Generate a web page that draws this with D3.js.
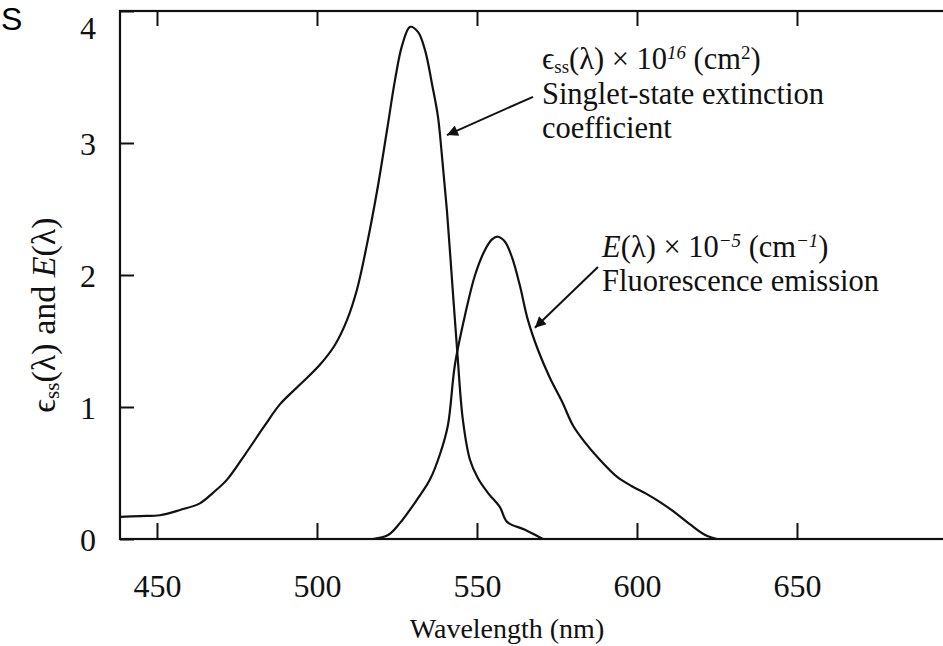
<!DOCTYPE html>
<html>
<head>
<meta charset="utf-8">
<script src="https://cdn.jsdelivr.net/npm/d3@7"></script>
<style>
  html, body { margin: 0; padding: 0; background: #fff; }
  svg { display: block; }
</style>
</head>
<body>
<svg id="chart" width="943" height="646"></svg>
<script>
// ---- data ----
const epsWavelength = [438.4, 444.7, 450.9, 457.2, 463.4, 467.5, 471.9, 477.5, 483.7, 488.4, 494.7, 500.9, 505.6, 509.4, 512.5, 515.6, 518.8, 521.9, 524.4, 526.6, 529.1, 531.6, 533.8, 536.0, 537.8, 539.1, 540.6, 542.2, 543.8, 545.6, 547.8, 550.3, 553.4, 557.2, 559.4, 565.0, 570.6];
const epsValues     = [0.167, 0.174, 0.18, 0.22, 0.27, 0.35, 0.45, 0.64, 0.86, 1.02, 1.17, 1.32, 1.47, 1.66, 1.89, 2.23, 2.64, 3.10, 3.48, 3.74, 3.88, 3.84, 3.70, 3.44, 3.20, 2.89, 2.49, 1.96, 1.43, 0.90, 0.60, 0.46, 0.35, 0.24, 0.13, 0.07, 0.0];

const emWavelength = [517.5, 522.2, 525.9, 531.3, 535.3, 538.4, 540.9, 543.1, 546.3, 549.4, 552.5, 554.7, 556.6, 558.8, 561.0, 563.4, 565.9, 569.1, 572.8, 576.6, 580.0, 583.8, 588.4, 593.8, 598.4, 603.1, 607.8, 611.9, 616.6, 621.3, 625.0];
const emValues     = [0.0, 0.03, 0.12, 0.30, 0.45, 0.64, 0.86, 1.32, 1.70, 2.00, 2.19, 2.27, 2.29, 2.25, 2.13, 1.92, 1.66, 1.43, 1.22, 1.04, 0.86, 0.73, 0.60, 0.47, 0.40, 0.34, 0.27, 0.20, 0.11, 0.03, 0.0];

const xTicks = [450, 500, 550, 600, 650];
const yTicks = [0, 1, 2, 3, 4];
const xDomain = [438.44, 700];
const yDomain = [0, 4];

// ---- layout ----
const svg = d3.select("#chart");
const plotLeft = 120, plotTop = 11, plotBottom = 539;
const plotRight = 120 + (xDomain[1] - xDomain[0]) * 3.2;  // frame continues past the window edge

const x = d3.scaleLinear().domain(xDomain).range([plotLeft, plotRight]);
const y = d3.scaleLinear().domain(yDomain).range([plotBottom, plotTop]);

const ink = "#111";
const serif = "'Liberation Serif', 'Times New Roman', serif";

// frame
svg.append("rect")
  .attr("x", plotLeft).attr("y", plotTop)
  .attr("width", plotRight - plotLeft).attr("height", plotBottom - plotTop)
  .attr("fill", "none").attr("stroke", ink).attr("stroke-width", 2.2);

// axes (inward ticks)
const gx = svg.append("g").attr("transform", `translate(0,${plotBottom})`)
  .call(d3.axisBottom(x).tickValues(xTicks).tickFormat(d3.format("d"))
    .tickSizeInner(-16).tickSizeOuter(0).tickPadding(35));
const gxTop = svg.append("g").attr("transform", `translate(0,${plotTop})`)
  .call(d3.axisTop(x).tickValues(xTicks).tickSizeInner(-15).tickSizeOuter(0).tickFormat(""));
const gy = svg.append("g").attr("transform", `translate(${plotLeft},0)`)
  .call(d3.axisLeft(y).tickValues(yTicks).tickFormat(d3.format("d"))
    .tickSizeInner(-14).tickSizeOuter(0).tickPadding(24));
const gyRight = svg.append("g").attr("transform", `translate(${plotRight},0)`)
  .call(d3.axisRight(y).tickValues(yTicks).tickSizeInner(-14).tickSizeOuter(0).tickFormat(""));

[gx, gxTop, gy, gyRight].forEach(g => {
  g.select(".domain").remove();
  g.selectAll(".tick line").attr("stroke", ink).attr("stroke-width", 2);
  g.selectAll(".tick text")
    .style("font-family", serif).style("font-size", "32px").attr("fill", ink);
});
// keep the top "4" label inside the picture as in the reference
gy.selectAll(".tick text").attr("dy", d => d === 4 ? "0.85em" : "0.36em");

// curves
const line = d3.line().x(d => x(d[0])).y(d => y(d[1])).curve(d3.curveCatmullRom.alpha(0.5));
svg.append("path")
  .datum(epsWavelength.map((w, i) => [w, epsValues[i]]))
  .attr("d", line).attr("fill", "none").attr("stroke", ink).attr("stroke-width", 2.2);
svg.append("path")
  .datum(emWavelength.map((w, i) => [w, emValues[i]]))
  .attr("d", line).attr("fill", "none").attr("stroke", ink).attr("stroke-width", 2.2);

// rich text helper
function richText(sel, parts, fs) {
  parts.forEach(p => {
    const ts = sel.append("tspan").text(p.t);
    if (p.it) ts.style("font-style", "italic");
    if (p.sub) ts.style("font-size", (fs * 0.62) + "px").attr("baseline-shift", "-20%");
    if (p.sup) ts.style("font-size", (fs * 0.62) + "px").attr("baseline-shift", "55%");
  });
}

// annotations (anchored in data coordinates)
const annFs = 30.5;
function annLine(lam, val, dyPx, parts) {
  const t = svg.append("text")
    .attr("x", x(lam)).attr("y", y(val) + dyPx)
    .style("font-family", serif).style("font-size", annFs + "px").attr("fill", ink);
  richText(t, parts, annFs);
}
// epsilon annotation
annLine(570.3, 3.56, 0, [{t: "ϵ"}, {t: "ss", sub: true}, {t: "(λ) × 10"}, {t: "16", sup: true, it: true}, {t: " (cm"}, {t: "2", sup: true}, {t: ")"}]);
annLine(570.3, 3.56, 35, [{t: "Singlet-state extinction"}]);
annLine(570.3, 3.56, 69, [{t: "coefficient"}]);
// emission annotation
annLine(589.1, 2.14, 0, [{t: "E", it: true}, {t: "(λ) × 10"}, {t: "−5", sup: true, it: true}, {t: " (cm"}, {t: "−1", sup: true, it: true}, {t: ")"}]);
annLine(589.1, 2.14, 34, [{t: "Fluorescence emission"}]);

// arrows
svg.append("defs").append("marker")
  .attr("id", "ah").attr("viewBox", "0 0 10 10")
  .attr("refX", 10).attr("refY", 5)
  .attr("markerWidth", 24).attr("markerHeight", 11)
  .attr("markerUnits", "userSpaceOnUse")
  .attr("orient", "auto")
  .append("path").attr("d", "M0,0 L10,5 L0,10 Z").attr("fill", ink);

const arrows = [
  {from: [567.5, 3.35], to: [540.6, 3.06]},
  {from: [587.8, 2.06], to: [568.1, 1.60]}
];
arrows.forEach(a => {
  svg.append("line")
    .attr("x1", x(a.from[0])).attr("y1", y(a.from[1]))
    .attr("x2", x(a.to[0])).attr("y2", y(a.to[1]))
    .attr("stroke", ink).attr("stroke-width", 2)
    .attr("marker-end", "url(#ah)");
});

// axis titles
svg.append("text")
  .attr("x", 507).attr("y", 638)
  .attr("text-anchor", "middle")
  .style("font-family", serif).style("font-size", "28px").attr("fill", ink)
  .text("Wavelength (nm)");

const ylFs = 34;
const yl = svg.append("text")
  .attr("transform", "translate(55,315) rotate(-90)")
  .attr("text-anchor", "middle")
  .style("font-family", serif).style("font-size", ylFs + "px").attr("fill", ink);
richText(yl, [{t: "ϵ"}, {t: "ss", sub: true}, {t: "(λ) and "}, {t: "E", it: true}, {t: "(λ)"}], ylFs);

// panel letter
svg.append("text")
  .attr("x", 1).attr("y", 30)
  .style("font-family", "'Liberation Sans', Arial, sans-serif")
  .style("font-size", "32px").attr("fill", "#000")
  .text("S");
</script>
</body>
</html>
